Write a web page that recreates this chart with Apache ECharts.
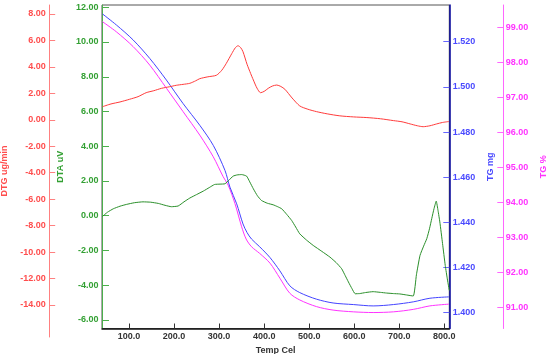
<!DOCTYPE html>
<html>
<head>
<meta charset="utf-8">
<script src="https://cdn.jsdelivr.net/npm/echarts@6/dist/echarts.min.js"></script>
<style>
html,body{margin:0;padding:0;background:#fff;}
#c{width:550px;height:354px;}
</style>
</head>
<body>
<div id="c"></div>
<script>
// Temperature ticks
var tempTicks = [100, 200, 300, 400, 500, 600, 700, 800];
var dtaTicks = [-6, -4, -2, 0, 2, 4, 6, 8, 10, 12];
var dtgTicks = [-14, -12, -10, -8, -6, -4, -2, 0, 2, 4, 6, 8];
var tgmgTicks = [1.40, 1.42, 1.44, 1.46, 1.48, 1.50, 1.52];
var tgpTicks = [91, 92, 93, 94, 95, 96, 97, 98, 99];

// DTG ug/min  [temp, value]
var dtgData = [
  [41, 0.99], [60, 1.2], [80, 1.35], [101, 1.55], [120, 1.75], [138, 2.05], [155, 2.2], [172, 2.38],
  [190, 2.5], [205, 2.61], [220, 2.68], [235, 2.76], [248, 2.95], [257, 3.11], [275, 3.25], [294, 3.37],
  [306, 3.75], [316, 4.27], [328, 5.0], [336, 5.45], [342, 5.6], [348, 5.45], [353, 5.15],
  [362, 4.2], [370, 3.5], [376, 3.01], [384, 2.4], [392, 2.05], [400, 2.15], [409, 2.38], [418, 2.55],
  [428, 2.63], [437, 2.52], [446, 2.31], [462, 1.65], [479, 1.05], [497, 0.8], [516, 0.62],
  [540, 0.45], [568, 0.3], [598, 0.22], [628, 0.17], [658, 0.08], [687, -0.06], [706, -0.15],
  [724, -0.31], [740, -0.45], [753, -0.52], [768, -0.45], [783, -0.31], [796, -0.2], [810, -0.13]
];

// DTA uV  [temp, value]
var dtaData = [
  [41, -0.04], [52, 0.2], [65, 0.4], [80, 0.55], [94, 0.65], [112, 0.75], [131, 0.8], [148, 0.78],
  [165, 0.71], [180, 0.6], [194, 0.52], [209, 0.56], [222, 0.8], [235, 1.02], [250, 1.22],
  [265, 1.42], [278, 1.62], [290, 1.8], [302, 1.82], [313, 1.84], [322, 2.05], [331, 2.28],
  [340, 2.35], [350, 2.37], [361, 2.28], [368, 1.95], [376, 1.55], [385, 1.15], [394, 0.88],
  [407, 0.72], [420, 0.63], [430, 0.52], [439, 0.4], [450, 0.08], [461, -0.27], [470, -0.65],
  [479, -1.04], [494, -1.4], [509, -1.71], [528, -2.05], [546, -2.38], [560, -2.7], [572, -3.05],
  [580, -3.45], [587, -3.81], [595, -4.2], [602, -4.49], [612, -4.48], [625, -4.42], [642, -4.37],
  [658, -4.41], [672, -4.45], [687, -4.48], [701, -4.5], [716, -4.56], [731, -4.62],
  [738, -3.4], [746, -2.28], [754, -1.75], [761, -1.32], [767, -0.75], [772, -0.17], [777, 0.4],
  [782, 0.84], [786, 0.3], [790, -0.36], [796, -1.6], [802, -2.86], [807, -3.7], [811, -4.3]
];

// TG mg  [temp, value]
var tgmgData = [
  [41, 1.5323], [72, 1.5274], [109, 1.5208], [146, 1.5126], [183, 1.5030], [220, 1.4926],
  [257, 1.4830], [287, 1.4741], [313, 1.4630], [324, 1.4556], [339, 1.4482], [353, 1.4393],
  [362, 1.4355], [372, 1.4326], [390, 1.4292], [413, 1.4244], [435, 1.4185], [457, 1.4119],
  [479, 1.4089], [516, 1.4060], [553, 1.4043], [598, 1.4036], [642, 1.4030], [687, 1.4036],
  [731, 1.4048], [768, 1.4064], [810, 1.4070]
];

// TG %  [temp, value]
var tgpData = [
  [41, 99.16], [72, 98.87], [109, 98.45], [146, 97.92], [183, 97.26], [220, 96.59],
  [257, 95.92], [287, 95.30], [309, 94.73], [320, 94.49], [335, 93.97], [350, 93.30],
  [360, 92.95], [372, 92.73], [390, 92.54], [413, 92.26], [435, 91.83], [457, 91.40],
  [479, 91.21], [516, 91.02], [553, 90.92], [598, 90.87], [642, 90.85], [687, 90.87],
  [731, 90.94], [768, 91.04], [810, 91.09]
];

var FONT = 'Liberation Sans, Arial, sans-serif';
function lbl(color, margin, fmt) {
  return { color: color, fontSize: 9, fontWeight: 'bold', fontFamily: FONT, margin: margin, formatter: fmt };
}

var chart = echarts.init(document.getElementById('c'), null, { renderer: 'canvas' });
var option = {
  animation: false,
  backgroundColor: '#ffffff',
  grid: [
    { left: 102, right: 100.7, top: 5, height: 323.5, show: true, borderColor: '#555555', borderWidth: 1,
      backgroundColor: 'transparent', containLabel: false, outerBoundsMode: 'none' },
    { left: 102, right: 100.7, top: 5, height: 332, show: false, containLabel: false, outerBoundsMode: 'none' }
  ],
  xAxis: [
    {
      gridIndex: 0, type: 'value', min: 40, max: 811,
      axisLine: { onZero: false, lineStyle: { color: '#111111', width: 1.5 } },
      axisTick: { inside: true, length: 5, customValues: tempTicks, lineStyle: { color: '#333333' } },
      axisLabel: Object.assign(lbl('#333333', 4, function (v) { return v.toFixed(1); }), { customValues: tempTicks }),
      splitLine: { show: false },
      name: 'Temp Cel', nameLocation: 'middle', nameGap: 13,
      nameTextStyle: { color: '#333333', fontSize: 9, fontWeight: 'bold', fontFamily: FONT }
    },
    { gridIndex: 1, type: 'value', min: 40, max: 811, show: false }
  ],
  yAxis: [
    {
      gridIndex: 0, type: 'value', position: 'left', offset: 0, min: -6.49, max: 12.13,
      axisLine: { show: true, onZero: false, lineStyle: { color: '#4cb04c', width: 1 } },
      axisTick: { show: true, inside: true, length: 7, customValues: dtaTicks, lineStyle: { color: '#4cb04c' } },
      axisLabel: Object.assign(lbl('#33a033', 3.5, function (v) { return v.toFixed(2); }), { customValues: dtaTicks }),
      splitLine: { show: false },
      name: 'DTA uV', nameLocation: 'middle', nameGap: 35,
      nameTextStyle: { color: '#33a033', fontSize: 9, fontWeight: 'bold', fontFamily: FONT }
    },
    {
      gridIndex: 0, type: 'value', position: 'right', offset: 0, min: 1.3930, max: 1.53625,
      axisLine: { show: true, onZero: false, lineStyle: { color: '#000099', width: 1.5 } },
      axisTick: { show: true, inside: true, length: 6, customValues: tgmgTicks, lineStyle: { color: '#6666ff' } },
      axisLabel: Object.assign(lbl('#4a4aff', 3.5, function (v) { return v.toFixed(3); }), { customValues: tgmgTicks }),
      splitLine: { show: false },
      name: 'TG mg', nameLocation: 'middle', nameGap: 32,
      nameTextStyle: { color: '#4a4aff', fontSize: 9, fontWeight: 'bold', fontFamily: FONT }
    },
    {
      gridIndex: 0, type: 'value', position: 'right', offset: 54, min: 90.394, max: 99.637,
      axisLine: { show: true, onZero: false, lineStyle: { color: '#ff66ff', width: 1 } },
      axisTick: { show: true, inside: true, length: 6, customValues: tgpTicks, lineStyle: { color: '#ff66ff' } },
      axisLabel: Object.assign(lbl('#ff33ff', 2.5, function (v) { return v.toFixed(2); }), { customValues: tgpTicks }),
      splitLine: { show: false },
      name: 'TG %', nameLocation: 'middle', nameGap: 35,
      nameTextStyle: { color: '#ff33ff', fontSize: 9, fontWeight: 'bold', fontFamily: FONT }
    },
    {
      gridIndex: 1, type: 'value', position: 'left', offset: 52.3, min: -16.42, max: 8.68,
      axisLine: { show: true, onZero: false, lineStyle: { color: '#ff8080', width: 1 } },
      axisTick: { show: true, inside: true, length: 5.5, customValues: dtgTicks, lineStyle: { color: '#ff8080' } },
      axisLabel: Object.assign(lbl('#ff4d4d', 4, function (v) { return v.toFixed(2); }), { customValues: dtgTicks }),
      splitLine: { show: false },
      name: 'DTG ug/min', nameLocation: 'middle', nameGap: 27,
      nameTextStyle: { color: '#ff4d4d', fontSize: 9, fontWeight: 'bold', fontFamily: FONT }
    }
  ],
  series: [
    { name: 'TG %', type: 'line', xAxisIndex: 0, yAxisIndex: 2, data: tgpData, showSymbol: false, smooth: 0.3,
      lineStyle: { color: '#ff33ff', width: 1 }, itemStyle: { color: '#ff33ff' } },
    { name: 'TG mg', type: 'line', xAxisIndex: 0, yAxisIndex: 1, data: tgmgData, showSymbol: false, smooth: 0.3,
      lineStyle: { color: '#4444ff', width: 1 }, itemStyle: { color: '#4444ff' } },
    { name: 'DTA', type: 'line', xAxisIndex: 0, yAxisIndex: 0, data: dtaData, showSymbol: false, smooth: 0.15,
      lineStyle: { color: '#2a8f2a', width: 1 }, itemStyle: { color: '#2a8f2a' } },
    { name: 'DTG', type: 'line', xAxisIndex: 1, yAxisIndex: 3, data: dtgData, showSymbol: false, smooth: 0.25,
      lineStyle: { color: '#ff3b3b', width: 1 }, itemStyle: { color: '#ff3b3b' } }
  ]
};
chart.setOption(option);
</script>
</body>
</html>
